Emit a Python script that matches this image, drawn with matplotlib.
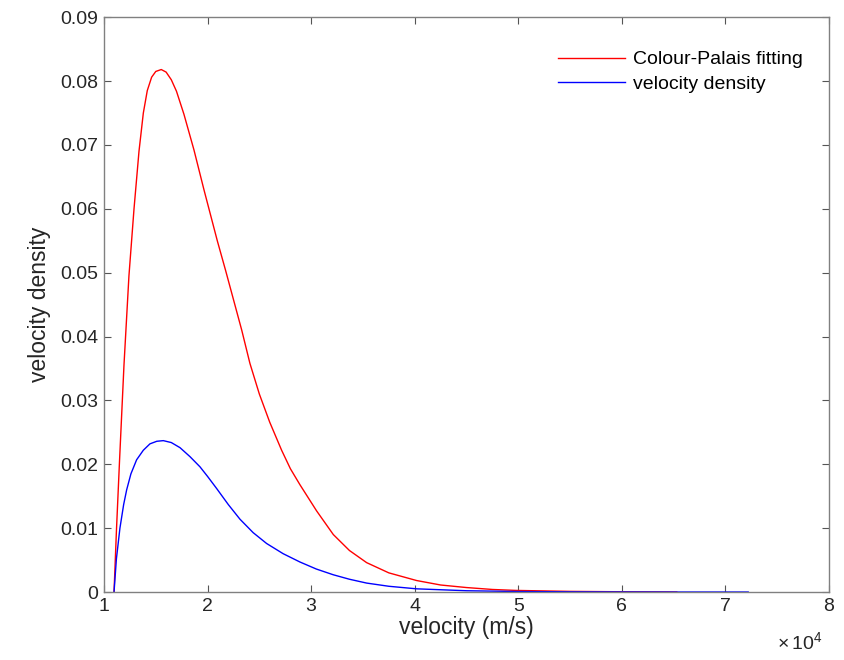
import matplotlib.pyplot as plt
import numpy as np
from matplotlib.ticker import FuncFormatter

plt.rcParams['font.family'] = ['Liberation Sans', 'DejaVu Sans']
plt.rcParams['mathtext.fontset'] = 'custom'
plt.rcParams['mathtext.rm'] = 'Liberation Sans'

# values (velocity in units of 1e4 m/s)
fit_v = [1.097, 1.12, 1.15, 1.193, 1.241, 1.29, 1.338, 1.38, 1.418, 1.46, 1.50, 1.553,
         1.60, 1.65, 1.70, 1.772, 1.869, 1.965, 2.094, 2.175, 2.255, 2.33, 2.409, 2.50,
         2.60, 2.715, 2.80, 2.892, 3.053, 3.214, 3.37, 3.536, 3.75, 4.018, 4.25, 4.50,
         4.75, 4.98, 5.5, 6.0, 6.53]
fit_d = [0.0, 0.0095, 0.0205, 0.0355, 0.0495, 0.0600, 0.0690, 0.0750, 0.0785, 0.0806, 0.0815, 0.0818,
         0.0814, 0.0802, 0.0784, 0.0748, 0.0692, 0.0630, 0.0550, 0.0503, 0.0455, 0.0410, 0.0358, 0.0310,
         0.0266, 0.0222, 0.0193, 0.0168, 0.0127, 0.0090, 0.0065, 0.0046, 0.0030, 0.0018, 0.0011, 0.0007,
         0.0004, 0.00025, 0.0001, 0.00004, 0.0]

vel_v = [1.097, 1.12, 1.154, 1.19, 1.219, 1.26, 1.315, 1.38, 1.444, 1.51, 1.573, 1.65,
         1.734, 1.83, 1.927, 2.0, 2.088, 2.20, 2.313, 2.44, 2.57, 2.73, 2.892, 3.05,
         3.214, 3.37, 3.536, 3.75, 4.018, 4.5, 5.0, 5.5, 6.0, 6.5, 7.22]
vel_d = [0.0, 0.0052, 0.0100, 0.0137, 0.0160, 0.0185, 0.0207, 0.0222, 0.0232, 0.0236, 0.0237, 0.0234,
         0.0226, 0.0212, 0.0196, 0.0181, 0.0162, 0.0137, 0.0114, 0.0093, 0.0076, 0.0060, 0.0047, 0.0036,
         0.0027, 0.0020, 0.0014, 0.0009, 0.0005, 0.0002, 0.00008, 0.00003, 0.00001, 0.0, 0.0]

xticks = [1, 2, 3, 4, 5, 6, 7, 8]
yticks = [0, 0.01, 0.02, 0.03, 0.04, 0.05, 0.06, 0.07, 0.08, 0.09]

fit_v = np.array(fit_v) * 1e4
vel_v = np.array(vel_v) * 1e4

fig = plt.figure(figsize=(8.44, 6.6), dpi=100)
ax = fig.add_axes([0.1232, 0.103, 0.859, 0.871])

ax.plot(fit_v, fit_d, color='#ff0000', linewidth=1.0, label='Colour-Palais fitting')
ax.plot(vel_v, vel_d, color='#0000ff', linewidth=1.0, label='velocity density')

ax.set_xlim(1e4, 8e4)
ax.set_ylim(0, 0.09)
ax.set_xticks(np.array(xticks) * 1e4)
ax.set_yticks(yticks)
ax.xaxis.set_major_formatter(FuncFormatter(lambda v, p: '%g' % (v / 1e4)))
ax.yaxis.set_major_formatter(FuncFormatter(lambda v, p: '0' if v == 0 else '%.2f' % v))

grey = '#808080'
for s in ax.spines.values():
    s.set_color(grey)
    s.set_linewidth(1.0)
ax.tick_params(direction='in', top=True, right=True, length=5, width=0.8,
               color='#555555', labelcolor='#262626', labelsize=14, pad=4)

ax.set_xlabel('velocity (m/s)', fontsize=16.5, color='#262626', labelpad=1)
ax.set_ylabel('velocity density', fontsize=16.5, color='#262626', labelpad=7)

# exponent label, as MATLAB puts it under the right end of the x axis
fig.text(0.975, 0.026, r'$\times\,10^{4}$', ha='right', va='center', fontsize=14, color='#262626')

ax.legend(loc='upper right', bbox_to_anchor=(0.975, 0.955), frameon=False, fontsize=14,
          handlelength=3.45, handletextpad=0.4, labelspacing=0.35, borderaxespad=0)

fig.savefig('out.png', dpi=100)
